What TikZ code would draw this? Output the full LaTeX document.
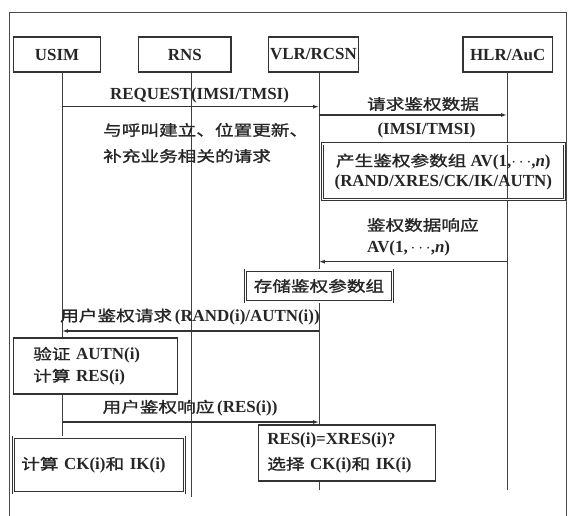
\documentclass[tikz,border=0pt]{standalone}
\usepackage{fontspec}
\setmainfont{Liberation Serif}
\newfontfamily\cjkf[Scale=0.88,FakeStretch=1.25,FakeBold=1.3]{Noto Sans CJK SC}
\newcommand{\zhx}[1]{{\cjkf\mdseries #1}}
\usetikzlibrary{arrows.meta}
\begin{document}
\begin{tikzpicture}[x=1bp,y=-1bp,
  every node/.style={font=\fontsize{17}{20}\selectfont\bfseries, text=black!85, inner sep=0pt},
  sbox/.style={draw=black!80, line width=1.3pt, fill=white, inner sep=0pt},
  dbox/.style={draw=black!80, line width=0.8pt, double=white, double distance=1.4pt, fill=white, inner sep=0pt},
  life/.style={draw=black!75, line width=0.9pt},
  msg/.style={draw=black!80, line width=1.2pt, -{Latex[length=6pt,width=4pt]}},
  frame/.style={draw=black!70, line width=1pt}]
\useasboundingbox (0,0) rectangle (568,516);
% frame
\draw[frame] (9.5,516) -- (9.5,12.7) -- (566.7,12.7) -- (566.7,516);
% lifeline ends
\coordinate (uT) at (62,72);   \coordinate (uB) at (62,437);
\coordinate (rT) at (191,72);  \coordinate (rB) at (191,497);
\coordinate (vT) at (319,72);  \coordinate (vB) at (319,490);
\coordinate (hT) at (507,72);  \coordinate (hB) at (507,490);
\draw[life] (uT) -- (uB);
\draw[life] (rT) -- (rB);
\draw[life] (vT) -- (vB);
\draw[life] (hT) -- (hB);
% header boxes
\node[sbox, minimum width=88, minimum height=35] (usim) at (57,54.5) {USIM};
\node[sbox, minimum width=93, minimum height=35] (rns) at (184.8,54.5) {RNS};
\node[sbox, minimum width=91, minimum height=35] (vlr) at (313.5,54.5) {VLR/RCSN};
\node[sbox, minimum width=90, minimum height=35] (hlr) at (507.7,54.5) {HLR/AuC};
% message end points
\coordinate (a1s) at (62,106.7);  \coordinate (a1e) at (319,106.7);
\coordinate (a2s) at (319,115);   \coordinate (a2e) at (507,115);
\coordinate (a3s) at (507,261.7); \coordinate (a3e) at (319,261.7);
\coordinate (a4s) at (319,331);   \coordinate (a4e) at (62,331);
\coordinate (a5s) at (62,422);    \coordinate (a5e) at (319,422);
\draw[msg] (a1s) -- (a1e);
\draw[msg] (a2s) -- (a2e);
\draw[msg] (a3s) -- (a3e);
\draw[msg] (a4s) -- (a4e);
\draw[msg] (a5s) -- (a5e);
% labels
\node (l1) at (199.5,95) {REQUEST(IMSI/TMSI)};
\node (l2) at (423,104) {\zhx{请求鉴权数据}};
\node (l3) at (426.5,130) {(IMSI/TMSI)};
\node[anchor=west] (l4) at (103,130) {\zhx{与呼叫建立、位置更新、}};
\node[anchor=west] (l5) at (103,156) {\zhx{补充业务相关的请求}};
\node[draw=black!80, line width=0.8pt, double=white, double distance=1.4pt, inner sep=0pt,
      minimum width=243, minimum height=56, align=center] (gen) at (443.3,171.7)
      {\zhx{产生鉴权参数组} AV(1,$\cdots$,\textit{n})\\(RAND/XRES/CK/IK/AUTN)};
\node[anchor=west] (l6) at (366.7,225) {\zhx{鉴权数据响应}};
\node[anchor=west] (l7) at (367,248) {AV(1,$\,\cdots$,\textit{n})};
\node[dbox, minimum width=147.7, minimum height=32] (store) at (318.9,286) {\zhx{存储鉴权参数组}};
\node (l8) at (190,316.7) {\zhx{用户鉴权请求}\,(RAND(i)/AUTN(i))};
\node[sbox, text width=125, inner xsep=20, minimum height=56, align=left] (ver) at (95.5,366)
      {\zhx{验证} AUTN(i)\\[2pt]\zhx{计算} RES(i)};
\node (l9) at (190,408) {\zhx{用户鉴权响应}\,(RES(i))};
\node[dbox, text width=156, inner xsep=8, minimum height=56, align=left] (ck) at (99,465) {\zhx{计算} CK(i)\zhx{和} IK(i)};
\node[sbox, text width=160, inner xsep=9, minimum height=56, align=left] (res) at (347,453)
      {RES(i)=XRES(i)?\\[5pt]\zhx{选择} CK(i)\zhx{和} IK(i)};
\end{tikzpicture}
\end{document}
